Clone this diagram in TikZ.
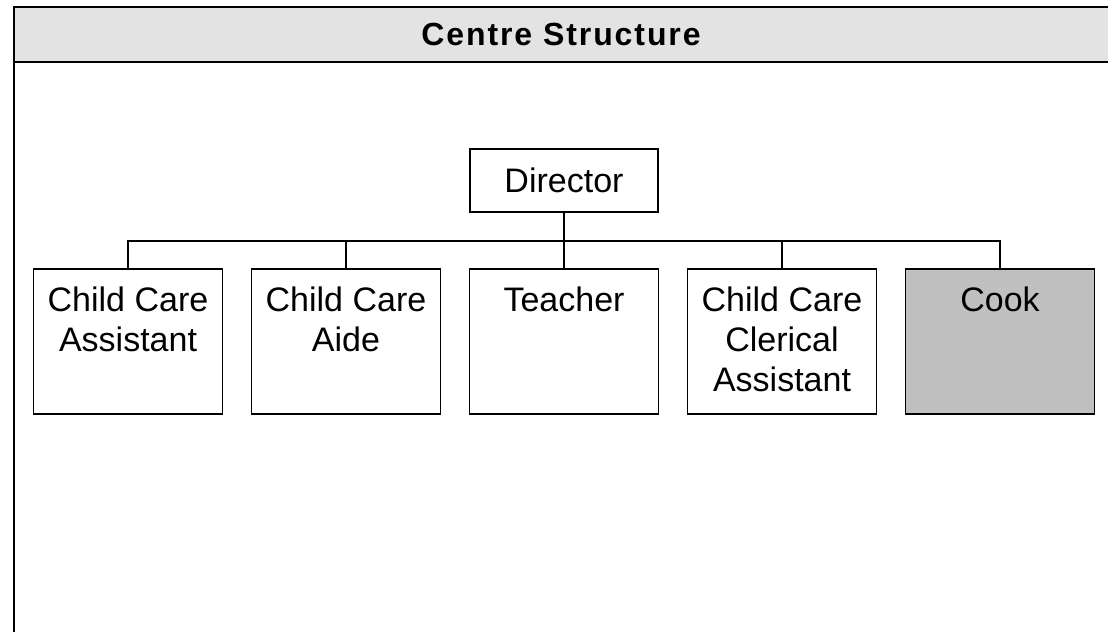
\documentclass[tikz,border=0pt]{standalone}
\usepackage{fontspec}
\setmainfont{Liberation Sans}
\definecolor{headgray}{HTML}{E3E3E3}
\definecolor{cookgray}{HTML}{C0C0C0}
\newcommand{\stafftext}[1]{\parbox[c][145pt][t]{185pt}{\centering\vspace*{15pt}\strut#1}}

\begin{document}
\begin{tikzpicture}[x=1pt,y=1pt,font=\fontsize{34}{40}\selectfont,
  level/.style={sibling distance=218pt,level distance=161pt},
  staff/.style={rectangle,draw,line width=1.8pt,inner sep=0pt,minimum width=189pt,minimum height=145pt,fill=white},
  edge from parent/.style={draw,line width=1.5pt},
  edge from parent path={(\tikzparentnode.south) -- ++(0,-28pt) -| (\tikzchildnode.north)}]
  \useasboundingbox (0,0) rectangle (1108,632);
  % header band
  \fill[headgray] (14,625) rectangle (1108,570);
  \draw[line width=2pt] (14,0) -- (14,625) -- (1108,625);
  \draw[line width=2pt] (14,570) -- (1108,570);
  \node (title) at (561,597.5) {\fontsize{32}{38}\selectfont\bfseries\addfontfeature{LetterSpace=6}Centre Structure};
  % tree
  \node[rectangle,draw,line width=1.8pt,inner sep=0pt,minimum width=188pt,minimum height=63pt] (dir) at (564,451.5) {Director}
   child {node [staff] (assist) {\stafftext{Child Care\\Assistant}}}
   child {node [staff] (aide) {\stafftext{Child Care\\Aide}}}
   child {node [staff] (teacher) {\stafftext{Teacher}}}
   child {node [staff] (clerical) {\stafftext{Child Care\\Clerical\\Assistant}}}
   child {node [staff,fill=cookgray] (cook) {\stafftext{Cook}}};
\end{tikzpicture}
\end{document}
